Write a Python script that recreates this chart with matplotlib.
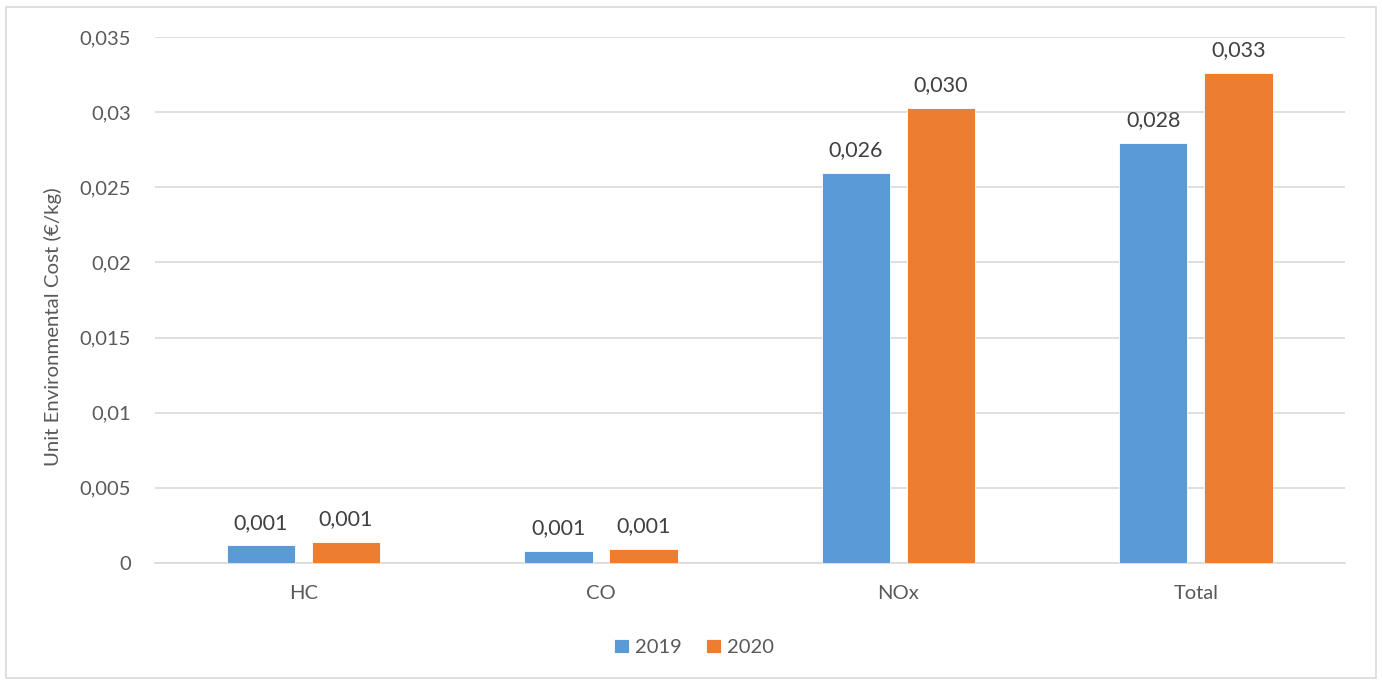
import matplotlib.pyplot as plt
import numpy as np
from matplotlib.patches import Rectangle
from matplotlib.ticker import FuncFormatter

# -------------------------
# Data
# -------------------------

categories = ["HC", "CO", "NOx", "Total"]
years = ["2019", "2020"]
cost_2019 = [0.00118, 0.00082, 0.02597, 0.02796]
cost_2020 = [0.00142, 0.00095, 0.03030, 0.03262]
y_ticks = [0, 0.005, 0.01, 0.015, 0.02, 0.025, 0.03, 0.035]

colors = ["#5B9BD5", "#ED7D31"]
text_color = "#595959"

plt.rcParams["font.family"] = ["Lato", "DejaVu Sans"]

# -------------------------
# Plot
# -------------------------

fig = plt.figure(figsize=(13.82, 6.82), dpi=100)
ax = fig.add_axes([0.112, 0.1745, 0.861, 0.7712])

x = np.arange(len(categories))
width = 0.229
offset = 0.143

for i, (vals, year) in enumerate(zip([cost_2019, cost_2020], years)):
    pos = x + (-offset if i == 0 else offset)
    bars = ax.bar(pos, vals, width, color=colors[i], label=year,
                  edgecolor="white", linewidth=0.6, zorder=3)
    for b, v in zip(bars, vals):
        ax.annotate(f"{v:.3f}".replace(".", ","),
                    (b.get_x() + b.get_width() / 2, v),
                    xytext=(0, 9), textcoords="offset points",
                    ha="center", va="bottom", fontsize=15.5, color="#404040")

ax.set_xlim(-0.5, 3.5)
ax.set_ylim(0, 0.035)
ax.set_yticks(y_ticks)
ax.yaxis.set_major_formatter(
    FuncFormatter(lambda v, _: "0" if v == 0 else f"{v:g}".replace(".", ","))
)
ax.set_xticks(x)
ax.set_xticklabels(categories)

ax.grid(axis="y", color="#D9D9D9", linewidth=1.2, zorder=0)
for side in ["top", "right", "left"]:
    ax.spines[side].set_visible(False)
ax.spines["bottom"].set_color("#D9D9D9")
ax.spines["bottom"].set_linewidth(1.2)

ax.tick_params(axis="y", length=0, pad=17, labelsize=14.5, labelcolor=text_color)
ax.tick_params(axis="x", length=0, pad=16, labelsize=14.5, labelcolor=text_color)

ax.set_ylabel("Unit Environmental Cost (€/kg)", fontsize=14.7, color=text_color)
ax.yaxis.set_label_coords(-0.078, 0.45)

fig.legend(loc="center", bbox_to_anchor=(0.502, 0.051), ncol=2, frameon=False,
           fontsize=14.5, labelcolor=text_color, handlelength=0.75,
           handleheight=0.75, handletextpad=0.3, columnspacing=1.2)

# light border round the chart area
fig.patches.append(Rectangle((0.004, 0.006), 0.992, 0.984,
                             transform=fig.transFigure, fill=False,
                             edgecolor="#D9D9D9", linewidth=1.2))

fig.savefig("out.png", dpi=100)
plt.close(fig)
